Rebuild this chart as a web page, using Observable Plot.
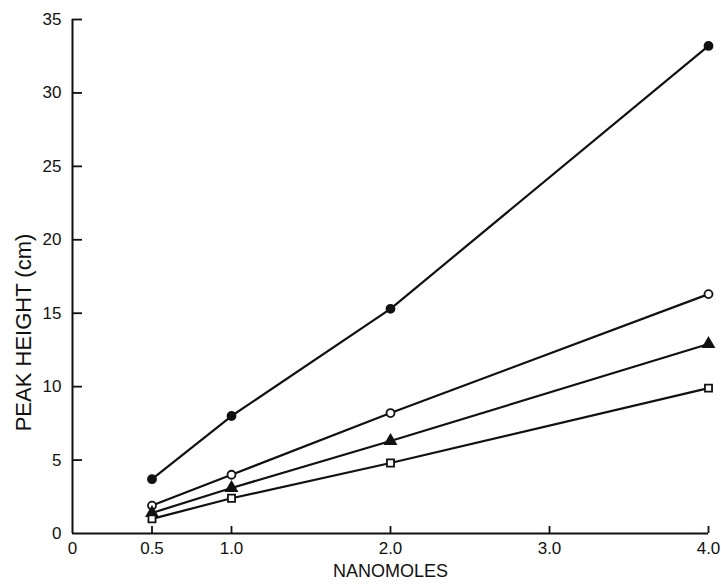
<!DOCTYPE html>
<html>
<head>
<meta charset="utf-8">
<script src="https://cdn.jsdelivr.net/npm/d3@7"></script>
<script src="https://cdn.jsdelivr.net/npm/@observablehq/plot@0.6"></script>
<style>
  html, body { margin: 0; padding: 0; background: #fff; }
  svg { font-family: "Liberation Sans", Arial, sans-serif; }
</style>
</head>
<body>
<div id="chart"></div>
<script>
// Data
const nanomoles = [0.5, 1.0, 2.0, 4.0];
const seriesA = [3.7, 8.0, 15.3, 33.2];   // half-filled circle
const seriesB = [1.9, 4.0, 8.2, 16.3];    // open circle
const seriesC = [1.4, 3.1, 6.3, 12.9];    // triangle
const seriesD = [1.0, 2.4, 4.8, 9.9];     // square
const seriesNames = ["A", "B", "C", "D"];
const seriesValues = [seriesA, seriesB, seriesC, seriesD];
const xTicks = [0, 0.5, 1.0, 2.0, 3.0, 4.0];
const xTickLabels = ["0", "0.5", "1.0", "2.0", "3.0", "4.0"];
const yTicks = [0, 5, 10, 15, 20, 25, 30, 35];
const xLabel = "NANOMOLES";
const yLabel = "PEAK HEIGHT (cm)";

const data = [];
seriesNames.forEach((s, i) => {
  nanomoles.forEach((x, j) => data.push({series: s, x, y: seriesValues[i][j]}));
});
const symbolOf = {A: "circle", B: "circle", C: "triangle", D: "square"};
const fillOf = {A: "#111", B: "white", C: "#111", D: "white"};

const W = 721, H = 585, mL = 72, mR = 13, mT = 19, mB = 52;
const xDomain = [0, 4], yDomain = [0, 35];
const yTickLen = 10, xTickLen = 7;
// tick stub lengths converted to data units so the stubs go through the scales
const yStub = yTickLen * (xDomain[1] - xDomain[0]) / (W - mL - mR);
const xStub = xTickLen * (yDomain[1] - yDomain[0]) / (H - mT - mB);
const yTickData = yTicks.slice(1).map((v) => ({v, a: xDomain[0], b: xDomain[0] + yStub}));
const xTickData = xTicks.slice(1).map((v) => ({v, a: yDomain[0], b: yDomain[0] + xStub}));

const chart = Plot.plot({
  width: W,
  height: H,
  marginLeft: mL,
  marginRight: mR,
  marginTop: mT,
  marginBottom: mB,
  style: {fontSize: "17px", fontFamily: "'Liberation Sans', Arial, sans-serif", color: "#111", background: "white"},
  x: {domain: xDomain, label: null},
  y: {domain: yDomain, label: null},
  marks: [
    Plot.ruleX([0], {stroke: "#111", strokeWidth: 2}),
    Plot.ruleY([0], {stroke: "#111", strokeWidth: 2}),
    // inward tick stubs
    Plot.ruleY(yTickData, {y: "v", x1: "a", x2: "b", stroke: "#111", strokeWidth: 1.8}),
    Plot.ruleX(xTickData, {x: "v", y1: "a", y2: "b", stroke: "#111", strokeWidth: 1.8}),
    Plot.axisY({ticks: yTicks, tickSize: 0, tickPadding: 11, label: null, fontSize: 17}),
    Plot.axisX({ticks: xTicks, tickSize: 0, tickPadding: 8, tickFormat: (d) => xTickLabels[xTicks.indexOf(d)], label: null, fontSize: 17}),
    Plot.line(data, {x: "x", y: "y", z: "series", stroke: "#111", strokeWidth: 2.2}),
    Plot.dot(data, {x: "x", y: "y", symbol: (d) => symbolOf[d.series], fill: (d) => fillOf[d.series], stroke: "#111", strokeWidth: 1.8, r: 4}),
    Plot.text([yLabel], {frameAnchor: "left", textAnchor: "middle", rotate: -90, dx: -49, dy: 56, fontSize: 22, fill: "#111"}),
    Plot.text([xLabel], {frameAnchor: "bottom", dy: 43, fontSize: 18, fill: "#111"})
  ]
});
document.getElementById("chart").appendChild(chart);
</script>
</body>
</html>
